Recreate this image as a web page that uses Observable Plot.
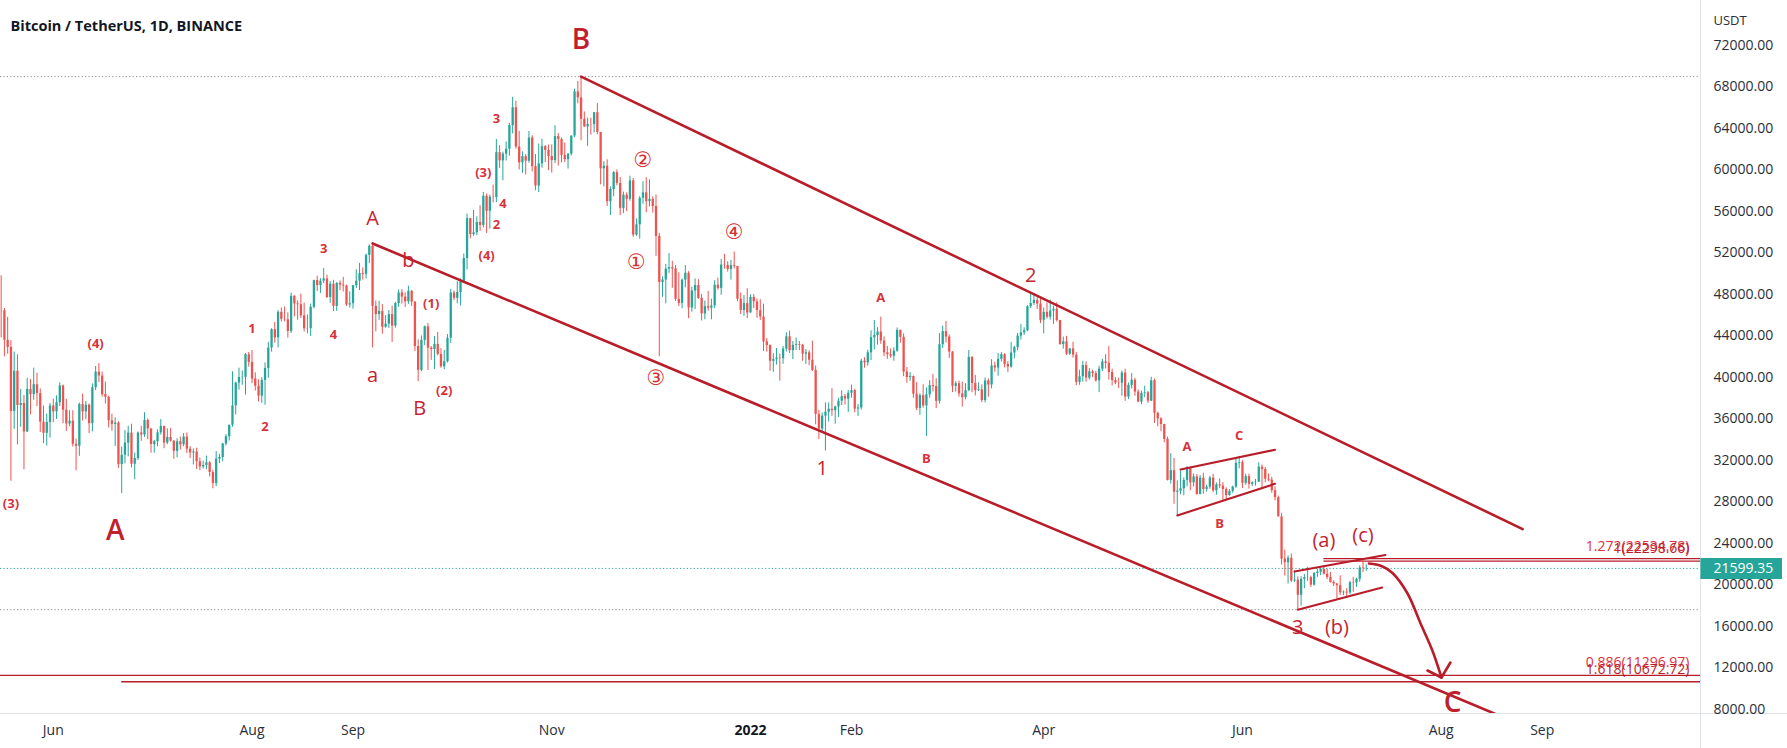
<!DOCTYPE html>
<html><head><meta charset="utf-8">
<script src="https://cdn.jsdelivr.net/npm/d3@7"></script>
<script src="https://cdn.jsdelivr.net/npm/@observablehq/plot@0.6"></script>
<style>body{margin:0;background:#fff;}svg{display:block;}</style>
</head><body><div id="chart"></div>
<script>
// ---------- DATA (BTC/USDT daily, Binance) ----------
const startDate = "2021-05-16";   // first candle
const firstOpen = 46426;          // open of first candle; other opens = previous close
const closes = [
// 2021-05 (16..31)
46420,43580,42900,36730,40600,37300,37500,34750,38850,38350,39300,38450,35700,34620,35670,37250,
// 2021-06
36690,37570,39190,36850,35520,35800,33560,33380,37390,36680,37330,35550,39020,40520,40140,38350,38090,35820,35480,35600,31610,32510,33680,34640,31640,32190,34650,34460,35870,35040,
// 2021-07
33540,33810,34670,35290,33690,34220,33860,32880,33810,33510,34260,33090,32730,32820,31880,31380,31520,31780,30840,29790,32140,32290,33590,34290,35400,37260,39460,40000,40020,42200,41460,
// 2021-08
39850,39150,38200,39720,40870,42840,44610,43820,46280,45600,45560,44430,47830,47100,47020,45940,44690,44710,46760,49340,48870,49290,49510,47710,48990,46850,49070,48900,48810,46990,47110,
// 2021-09
48850,49280,50030,49940,51770,52660,46860,46070,46370,44840,45140,46060,44960,47130,48150,47750,47300,48310,47260,42990,40690,43580,44880,42830,42700,43190,42230,41030,41520,43790,
// 2021-10
48140,47640,48200,49220,51470,55310,53780,53950,54940,54660,57470,56010,57370,57350,61670,60880,61530,62010,64280,66000,62210,60690,61290,60850,63080,60330,58460,60590,62250,61890,61300,
// 2021-11
60910,63220,62940,61400,61000,61530,63270,67530,66950,64880,64150,64390,64380,65520,63620,60110,60370,56940,58120,59750,58700,56300,57570,57180,58960,53730,54720,57270,57800,56950,
// 2021-12
57180,56480,53600,49150,49400,50450,50590,50470,47540,47140,49390,50050,46700,48340,48860,47630,46130,46830,46680,46900,48900,48590,50840,50800,50410,50780,50700,47540,46460,47120,46220,
// 2022-01
47720,47290,46440,45830,43430,43080,41560,41730,41860,41820,42740,43920,42590,43100,43180,43110,42250,42380,41660,40680,36450,35030,36280,36650,36950,36810,37160,37710,38160,37920,38480,
// 2022-02
38740,36950,37070,41570,41410,42380,43840,44040,44380,43520,42380,42200,42050,42540,44540,43870,40520,40000,40090,38390,37020,38250,37260,38330,39220,39120,37700,43160,
// 2022-03
44420,43900,42450,39150,39400,38420,38060,38740,41940,39420,38730,38810,37780,39670,39280,41110,40920,41760,42200,41260,41000,42360,42880,43990,44310,44500,46820,47130,47430,47070,45510,
// 2022-04
46280,45810,46410,46580,45500,43170,43440,42250,42750,42150,39530,40070,41150,39940,40550,40380,39680,40800,41500,41360,40480,39710,39470,39450,40430,38110,39240,39740,38600,37630,
// 2022-05
38470,38530,37720,39690,36550,36010,35470,34040,30080,31020,28940,29050,29280,30080,31330,29850,30420,28720,30300,29200,29430,30310,29080,29650,29540,29200,28620,29020,29450,31730,31800,
// 2022-06
29800,30450,29700,29860,29910,31370,31130,30200,30110,29090,28420,26570,22490,22140,22580,20380,20470,19010,20550,20710,20720,19990,21110,21230,21490,21040,20730,20250,20100,19940,
// 2022-07 (1..9)
19250,19310,19230,20220,20190,20550,21640,21590,21599.35
];
const highs = [
49800,46650,45800,43550,42450,42200,38850,38270,39920,39800,40900,40420,38900,37250,36480,37500,
37900,38230,39480,39280,37900,36800,36800,34070,37530,38400,37680,37450,39380,41060,41330,40530,39560,38200,36460,36110,35750,33300,34880,35300,35500,32710,34750,35300,36600,36000,
35050,33940,34950,35950,35290,35050,35070,33930,34100,34260,34600,34650,33330,33110,33190,32250,31940,32430,31900,31050,32860,32600,33650,34490,35400,40550,39540,40900,40630,42300,42410,
42600,40450,39780,39970,41400,43390,44700,45310,46450,46700,46790,46220,48140,47880,47390,48050,47160,46030,47080,49380,49760,49520,50500,49870,49240,49370,49150,49300,49650,48900,48250,
48870,50380,51000,50560,51900,52780,52920,47380,47350,47030,45970,46460,46880,47250,48450,48490,48160,48800,48370,47330,43630,44000,44960,45200,42970,43950,44350,42790,42620,44130,
48500,48340,49230,49500,51900,55750,55330,56100,55480,56560,57840,57680,57580,58530,62930,62350,61720,62700,64490,67000,66640,63730,61750,61490,63710,63290,61490,62500,62980,62350,62400,
62420,64270,63520,63090,62600,61560,63290,67790,68530,69000,65600,65000,65000,65550,66400,63620,60800,60980,58370,59850,60000,59280,57880,57800,59400,59180,55280,57440,58870,59250,
59050,57400,57600,53900,49700,50900,51940,51200,50800,50100,49490,50800,50200,48700,49500,49430,47990,47360,48300,47540,49330,49580,51380,51870,51150,51280,52090,50700,48140,47900,48550,
47950,47990,47570,47500,47070,43750,43150,42300,42790,42250,43000,44320,44460,43460,43800,43480,43200,42700,42580,43500,41100,36840,36570,37550,37550,38920,37230,38000,38720,38360,38740,
39260,38860,37400,41760,41900,42630,44500,45500,44800,45820,43920,43000,42750,42870,44770,44580,44200,40960,40470,40150,39500,38430,39300,39000,39700,40300,39880,44230,
44950,45400,44100,42500,39600,39650,39550,39400,42600,42000,40200,39480,39300,39950,39870,41720,41470,42320,42400,42300,41540,43360,43000,44250,45100,44800,46920,48190,48100,47700,47600,
46700,47200,47440,46880,47200,45500,43900,43970,42800,43400,42400,40700,41560,41500,40860,40700,40600,41100,41760,42200,42980,40800,39990,39940,40620,40800,39470,40370,39930,38800,
38680,39170,38650,40020,39850,36650,36130,35500,34250,32660,32200,30030,30990,30320,31410,31330,30700,30660,30550,30770,29610,30480,30670,29850,30220,29870,29370,29200,29530,32220,32400,
31980,30690,30680,29950,30180,31770,31560,31340,30700,30380,29470,28570,26900,23360,22800,22980,21360,20790,20800,21030,21720,20860,21200,21530,21600,21870,21520,21200,20410,20150,
20880,19430,19650,20350,20740,20670,21840,22530,21950
];
const lows = [
43825,42000,42250,30000,35000,33500,35200,31100,34700,36400,37800,37200,34700,33630,33400,34150,
35650,35950,37200,35550,34800,35250,33300,31000,32400,35800,35950,34600,34760,38730,39510,38110,37440,35130,34820,33340,31250,28800,31680,32350,31270,30150,32000,33850,34230,34000,
32700,32700,33320,34450,33140,33530,33770,32110,32260,33000,33330,32660,32200,31570,31130,31020,31170,31110,30410,29280,29480,31700,31880,33400,33880,35200,36400,38780,39250,38310,41000,
39420,38690,37640,37510,37330,39930,42450,43300,42850,45350,45360,43800,44240,45840,45520,45680,44380,44210,43950,46630,48290,48100,49050,47600,47150,46360,46370,48370,48240,46860,46700,
46590,48580,48380,49400,49490,50970,42840,44410,45510,44170,44750,44740,43370,44750,46750,47070,46750,47050,46850,42500,39600,40560,43060,40680,41650,40760,42100,40890,40760,41410,
43280,47430,47100,46900,49050,50380,53360,53610,53670,54080,54410,53880,54300,56820,56850,60150,58960,60870,61320,63480,62000,60000,59670,59520,60660,59820,58000,57820,60170,60720,59940,
59700,60620,60380,60680,60720,60090,61350,63120,66380,62820,64100,62280,63360,63580,63400,58570,58370,56480,55600,57420,58480,55610,55800,55990,57000,53500,53610,53330,56690,55880,
56450,55850,51680,42000,47730,47100,50040,48600,47320,46850,46630,48640,45670,46290,46550,47530,45450,45560,46400,45560,46630,48420,47930,50430,50160,49400,50460,47310,46070,45900,45680,
46210,46650,45700,45500,42500,42450,40610,40500,41200,39650,41270,42450,42310,41730,42600,42590,41560,41250,41140,40570,35440,34010,34600,32920,35700,36250,35500,36150,37300,37350,36630,
38000,36590,36250,36860,40900,41100,41640,42660,43120,43200,42000,41750,41870,41570,42430,43300,40070,39450,39640,38000,36800,36350,37040,34320,38000,38600,37000,37450,
42800,43330,41840,38550,38600,38100,37150,37850,38630,38540,38220,38650,37580,37560,38100,38900,40500,40130,41500,40920,40470,40900,41800,42570,43600,44050,44400,46650,46950,46560,45200,
44200,45620,45530,45120,45350,43120,42730,42120,42130,41870,39200,39250,39550,39550,39760,40000,39550,38540,40570,40820,39750,39180,39300,38930,38200,37700,37870,38880,38200,37580,
37390,38050,37500,37670,35570,35250,34780,33710,30030,29730,27780,26700,28700,28600,29460,29090,29450,28650,28700,28740,28950,29230,28900,28650,29300,28020,28200,28560,28840,29300,31200,
29300,29600,29250,29480,29530,29880,29220,29850,29950,28850,28100,26560,21920,20850,20100,20230,20250,17620,17960,19640,20350,19770,19890,20730,20900,20950,20520,20180,19850,18630,
18980,18980,18780,19050,19300,19770,20250,21200,21330
];
const lastPrice = 21599.35;
const athPrice = 69000;
const lowPrice = 17622;

// axis ticks
const yTicks = [8000,12000,16000,20000,24000,28000,32000,36000,40000,44000,48000,52000,56000,60000,64000,68000,72000];
const monthTicks = ["2021-06-01","2021-08-01","2021-09-01","2021-11-01","2022-02-01","2022-04-01","2022-06-01","2022-08-01","2022-09-01"];
const yearTicks = ["2022-01-01"];
const yearTickLabels = ["2022"];

// trend lines [id, date, price]
const trendLines = [
  ["upper","2021-11-10",69000],["upper","2022-08-26",25390],
  ["lower","2021-09-07",52920],["lower","2022-08-31",5810]
];
const smallLines = [
  ["flagTop","2022-05-13",31130],["flagTop","2022-06-11",33030],
  ["flagBot","2022-05-12",26700],["flagBot","2022-06-11",29750],
  ["chanTop","2022-06-17",21300],["chanTop","2022-07-14T21:00Z",22890],
  ["chanBot","2022-06-18",17620],["chanBot","2022-07-13T21:00Z",19760]
];
// projection arrow path and head
const arrowPath = [
  ["2022-07-09T19:30Z",22072],["2022-07-13T16:00Z",21831],["2022-07-17T01:00Z",21157],
  ["2022-07-21T16:00Z",19181],["2022-07-25T16:00Z",16289],["2022-07-29T07:00Z",13687],
  ["2022-08-01T02:00Z",11084]
];
const arrowHead = [
  ["L","2022-07-27T19:00Z",11759],["L","2022-08-01T02:00Z",11084],
  ["R","2022-08-03T20:00Z",12530],["R","2022-08-01T02:00Z",11084]
];

// fibonacci levels
const fibLabels = ["1.272(22534.78)","1(22298.66)","0.886(11296.97)","1.618(10672.72)"];
const fibPrices = [22534.78,22298.66,11296.97,10672.72];
const fibStarts = ["2022-06-26","2022-06-26",null,"2021-06-22"];
const fibTextColors = ["#e0303c","#b71c2a","#e0303c","#b71c2a"];

// wave labels [text, date, price]
const bigLabels = [["B","2021-11-10",72480],["A","2021-06-20",25250],["C","2022-08-04T12:00Z",8580]];
const mediumLabels = [
  ["A","2021-09-07",55330],["B","2021-09-21T12:00Z",37010],["b","2021-09-18",51280],["a","2021-09-07",40190],
  ["1","2022-01-23",31230],["2","2022-03-28",49830],["3","2022-06-18",15900],
  ["(a)","2022-06-26",24290],["(c)","2022-07-08",24770],["(b)","2022-06-30",15900]
];
const smallLabels = [
  ["(3)","2021-05-19",27860],["(4)","2021-06-14",43280],["1","2021-08-01",44720],["2","2021-08-05",35280],
  ["3","2021-08-23",52430],["4","2021-08-26",44150],["(1)","2021-09-25",47130],["(2)","2021-09-29",38750],
  ["(4)","2021-10-12",51760],["2","2021-10-15",54750],["4","2021-10-17",56770],["(3)","2021-10-11",59760],
  ["3","2021-10-15",64960],["A","2022-02-10",47710],["B","2022-02-24",32190],["A","2022-05-15",33350],
  ["C","2022-05-31",34410],["B","2022-05-25",25930]
];
const circledLabels = [["②","2021-11-29",60920],["①","2021-11-27",51080],["④","2021-12-27",53980],["③","2021-12-03",39900]];

const titleText = "Bitcoin / TetherUS, 1D, BINANCE";
const unitText = "USDT";

// ---------- BUILD ----------
const DAY = 864e5;
const D = s => new Date(s);
const t0 = Date.parse(startDate);
const candles = closes.map((c, i) => ({
  date: new Date(t0 + i * DAY),
  open: i ? closes[i - 1] : firstOpen,
  close: c, high: highs[i], low: lows[i]
}));
const up = candles.filter(d => d.close >= d.open);
const down = candles.filter(d => d.close < d.open);

const xDomain = [D("2021-05-15T19:12Z"), D("2022-10-19T14:10Z")];
const yDomain = [7614.5, 76337.3];
const pxDay = 3.258;              // px per day of the x scale (for panel extents)
const xEnd = xDomain[1];
const xAfter = days => new Date(+xEnd + days * DAY);

const fibs = fibLabels.map((l, i) => ({label: l, price: fibPrices[i], color: fibTextColors[i], from: fibStarts[i] ? D(fibStarts[i]) : xDomain[0]}));

const RED = "#b81d29";
const FONT = "'Open Sans', 'DejaVu Sans', sans-serif";
const txt = (data, o) => Plot.text(data, {x: d => D(d[1]), y: d => d[2], text: d => d[0], fontFamily: FONT, ...o});

const chart = Plot.plot({
  width: 1787, height: 748,
  marginLeft: 0, marginRight: 87, marginTop: 0, marginBottom: 35,
  style: {background: "#fff", fontFamily: FONT},
  x: {type: "utc", domain: xDomain},
  y: {domain: yDomain},
  marks: [
    // dotted reference lines
    Plot.ruleY([athPrice, lowPrice], {stroke: "#8a8d96", strokeDasharray: "1.2,2.2", strokeWidth: 1}),
    Plot.ruleY([lastPrice], {stroke: "#26a69a", strokeDasharray: "1.2,2.2", strokeWidth: 1}),
    // fib lines
    Plot.ruleY(fibs, {y: "price", x1: "from", x2: () => xEnd, stroke: RED, strokeWidth: 1.3}),
    // candles
    Plot.ruleX(up, {x: "date", y1: "low", y2: "high", stroke: "#26a69a", strokeWidth: 1}),
    Plot.ruleX(up, {x: "date", y1: "open", y2: "close", stroke: "#26a69a", strokeWidth: 2.3}),
    Plot.ruleX(down, {x: "date", y1: "low", y2: "high", stroke: "#ef5350", strokeWidth: 1}),
    Plot.ruleX(down, {x: "date", y1: "open", y2: "close", stroke: "#ef5350", strokeWidth: 2.3}),
    // trend lines
    Plot.line(trendLines, {x: d => D(d[1]), y: d => d[2], z: d => d[0], stroke: RED, strokeWidth: 2.6, clip: true}),
    Plot.line(smallLines, {x: d => D(d[1]), y: d => d[2], z: d => d[0], stroke: RED, strokeWidth: 2.1}),
    Plot.line(arrowPath, {x: d => D(d[0]), y: d => d[1], curve: "catmull-rom", stroke: RED, strokeWidth: 2.6}),
    Plot.line(arrowHead, {x: d => D(d[1]), y: d => d[2], z: d => d[0], stroke: RED, strokeWidth: 2.6, strokeLinecap: "round"}),
    // wave labels
    txt(bigLabels, {fontSize: 28, fontWeight: 600, fill: "#c0202c"}),
    txt(mediumLabels, {fontSize: 20, fill: "#c4252f"}),
    txt(smallLabels, {fontSize: 13, fontWeight: 700, fill: "#d7323a"}),
    txt(circledLabels, {fontSize: 21, fill: "#d32f2f", fontFamily: "'DejaVu Sans', 'Noto Sans CJK SC', sans-serif"}),
    // fib labels
    Plot.text(fibs, {frameAnchor: "right", y: "price", text: "label", textAnchor: "end", dx: -11, dy: -12.5, fontSize: 14, fill: "color"}),
    // panel separators
    Plot.ruleX([xEnd], {y1: () => yDomain[1], y2: () => yDomain[0] - 35 / 0.010375, stroke: "#e0e3eb", strokeWidth: 1}),
    Plot.ruleY([yDomain[0]], {x1: () => xDomain[0], x2: () => xAfter(87 / pxDay), stroke: "#e0e3eb", strokeWidth: 1}),
    // axes
    Plot.axisY(yTicks, {anchor: "right", tickSize: 0, tickPadding: 13, tickFormat: d => d.toFixed(2), fontSize: 14, color: "#2a2e39", label: null}),
    Plot.axisX(monthTicks.map(D), {anchor: "bottom", tickSize: 0, tickPadding: 12, tickFormat: d3.utcFormat("%b"), fontSize: 14, color: "#2a2e39", label: null}),
    Plot.axisX(yearTicks.map(D), {anchor: "bottom", tickSize: 0, tickPadding: 12, tickFormat: (d, i) => yearTickLabels[i], fontSize: 14, fontWeight: "bold", color: "#131722", label: null}),
    // last price tag
    Plot.ruleY([lastPrice], {x1: () => xAfter(0.4 / pxDay), x2: () => xAfter(82 / pxDay), stroke: "#26a69a", strokeWidth: 21}),
    Plot.text([lastPrice], {frameAnchor: "right", y: d => d, text: d => d.toFixed(2), dx: 13, textAnchor: "start", fontSize: 14, fill: "#fff"}),
    // unit and title
    Plot.text([unitText], {frameAnchor: "top-right", text: d => d, dx: 13, dy: 15, textAnchor: "start", fontSize: 13, fill: "#2a2e39"}),
    Plot.text([titleText], {frameAnchor: "top-left", text: d => d, dx: 10, dy: 20, textAnchor: "start", fontSize: 14.5, fontWeight: "bold", fill: "#131722"})
  ]
});
document.getElementById("chart").appendChild(chart);
</script>
</body></html>
